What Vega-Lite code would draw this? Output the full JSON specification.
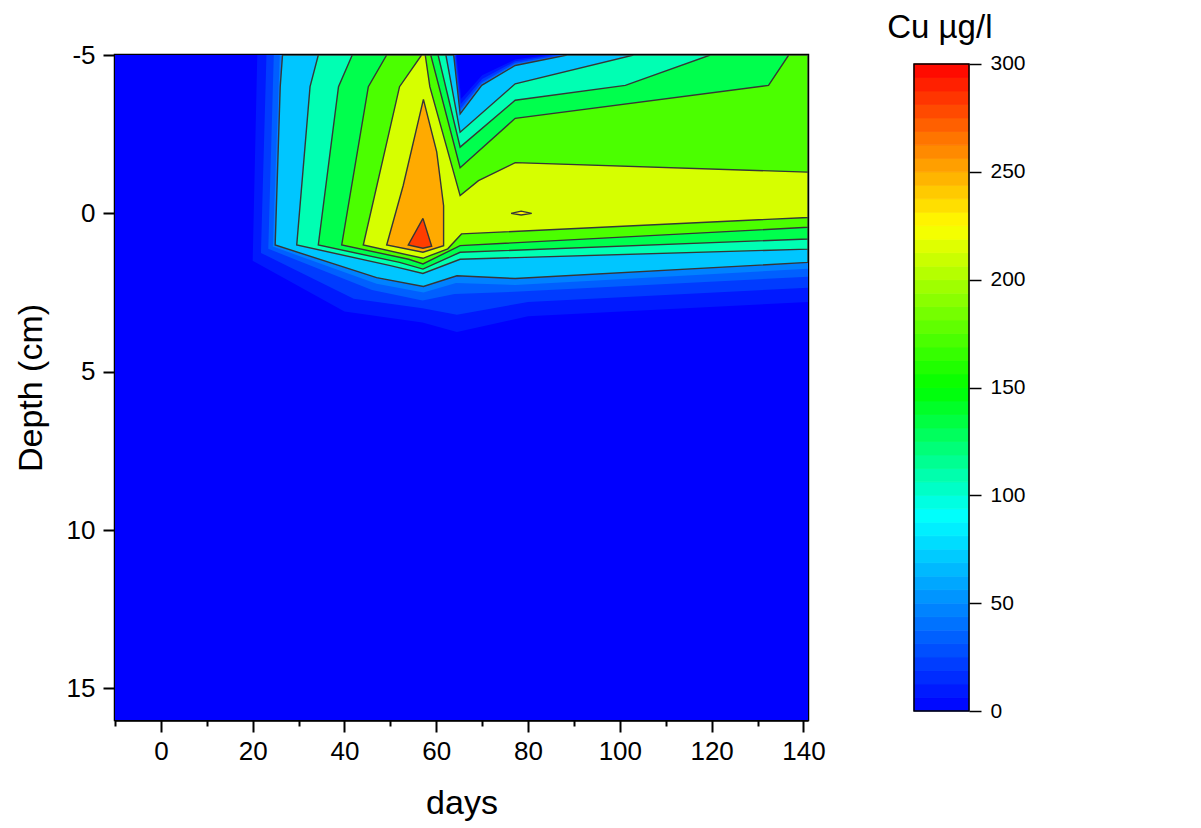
{
  "$schema": "https://vega.github.io/schema/vega-lite/v6.json",
  "background": "white",
  "padding": {"left": 12, "top": 11, "right": 0, "bottom": 0},
  "bounds": "flush",
  "spacing": 106,
  "datasets": {
    "bg": [{"x1": -10, "x2": 141, "y1": -5, "y2": 16, "v": 0}],
    "halo": [
      {"id": "h0", "v": 9, "i": 0, "x": 21.0, "y": -5},
      {"id": "h0", "v": 9, "i": 1, "x": 20.0, "y": 1.5},
      {"id": "h0", "v": 9, "i": 2, "x": 40, "y": 3.1},
      {"id": "h0", "v": 9, "i": 3, "x": 57, "y": 3.45},
      {"id": "h0", "v": 9, "i": 4, "x": 64.5, "y": 3.75},
      {"id": "h0", "v": 9, "i": 5, "x": 80, "y": 3.25},
      {"id": "h0", "v": 9, "i": 6, "x": 141, "y": 2.8},
      {"id": "h0", "v": 9, "i": 7, "x": 141, "y": -5},
      {"id": "h0", "v": 9, "i": 8, "x": 84, "y": -5},
      {"id": "h0", "v": 9, "i": 9, "x": 77.2, "y": -4.86},
      {"id": "h0", "v": 9, "i": 10, "x": 70, "y": -4.36},
      {"id": "h0", "v": 9, "i": 11, "x": 65.45, "y": -3.62},
      {"id": "h0", "v": 9, "i": 12, "x": 64.4, "y": -5},
      {"id": "h0", "v": 9, "i": 13, "x": 21.0, "y": -5},
      {"id": "h1", "v": 21, "i": 0, "x": 23.0, "y": -5},
      {"id": "h1", "v": 21, "i": 1, "x": 21.8, "y": 1.25},
      {"id": "h1", "v": 21, "i": 2, "x": 42, "y": 2.7},
      {"id": "h1", "v": 21, "i": 3, "x": 57, "y": 3.0},
      {"id": "h1", "v": 21, "i": 4, "x": 64.5, "y": 3.2},
      {"id": "h1", "v": 21, "i": 5, "x": 80, "y": 2.8},
      {"id": "h1", "v": 21, "i": 6, "x": 141, "y": 2.35},
      {"id": "h1", "v": 21, "i": 7, "x": 141, "y": -5},
      {"id": "h1", "v": 21, "i": 8, "x": 85.5, "y": -5},
      {"id": "h1", "v": 21, "i": 9, "x": 77.2, "y": -4.8},
      {"id": "h1", "v": 21, "i": 10, "x": 70, "y": -4.24},
      {"id": "h1", "v": 21, "i": 11, "x": 65.35, "y": -3.45},
      {"id": "h1", "v": 21, "i": 12, "x": 64.2, "y": -5},
      {"id": "h1", "v": 21, "i": 13, "x": 23.0, "y": -5},
      {"id": "h2", "v": 34, "i": 0, "x": 24.6, "y": -5},
      {"id": "h2", "v": 34, "i": 1, "x": 23.4, "y": 1.12},
      {"id": "h2", "v": 34, "i": 2, "x": 46, "y": 2.42},
      {"id": "h2", "v": 34, "i": 3, "x": 57, "y": 2.75},
      {"id": "h2", "v": 34, "i": 4, "x": 64, "y": 2.55},
      {"id": "h2", "v": 34, "i": 5, "x": 77, "y": 2.48},
      {"id": "h2", "v": 34, "i": 6, "x": 141, "y": 2.0},
      {"id": "h2", "v": 34, "i": 7, "x": 141, "y": -5},
      {"id": "h2", "v": 34, "i": 8, "x": 87, "y": -5},
      {"id": "h2", "v": 34, "i": 9, "x": 77.2, "y": -4.75},
      {"id": "h2", "v": 34, "i": 10, "x": 69.9, "y": -4.14},
      {"id": "h2", "v": 34, "i": 11, "x": 65.25, "y": -3.3},
      {"id": "h2", "v": 34, "i": 12, "x": 64.0, "y": -5},
      {"id": "h2", "v": 34, "i": 13, "x": 24.6, "y": -5},
      {"id": "h3", "v": 46, "i": 0, "x": 25.9, "y": -5},
      {"id": "h3", "v": 46, "i": 1, "x": 24.4, "y": 1.05},
      {"id": "h3", "v": 46, "i": 2, "x": 47, "y": 2.22},
      {"id": "h3", "v": 46, "i": 3, "x": 57.2, "y": 2.5},
      {"id": "h3", "v": 46, "i": 4, "x": 64.3, "y": 2.2},
      {"id": "h3", "v": 46, "i": 5, "x": 77.2, "y": 2.26},
      {"id": "h3", "v": 46, "i": 6, "x": 141, "y": 1.75},
      {"id": "h3", "v": 46, "i": 7, "x": 141, "y": -5},
      {"id": "h3", "v": 46, "i": 8, "x": 87.8, "y": -5},
      {"id": "h3", "v": 46, "i": 9, "x": 77.2, "y": -4.71},
      {"id": "h3", "v": 46, "i": 10, "x": 69.9, "y": -4.09},
      {"id": "h3", "v": 46, "i": 11, "x": 65.22, "y": -3.22},
      {"id": "h3", "v": 46, "i": 12, "x": 63.9, "y": -5},
      {"id": "h3", "v": 46, "i": 13, "x": 25.9, "y": -5}
    ],
    "cont": [
      {"id": "r1", "v": 70, "i": 0, "x": 26.5, "y": -5},
      {"id": "r1", "v": 70, "i": 1, "x": 26.0, "y": -4},
      {"id": "r1", "v": 70, "i": 2, "x": 24.9, "y": 1},
      {"id": "r1", "v": 70, "i": 3, "x": 47, "y": 2.03},
      {"id": "r1", "v": 70, "i": 4, "x": 57.2, "y": 2.31},
      {"id": "r1", "v": 70, "i": 5, "x": 64.5, "y": 1.97},
      {"id": "r1", "v": 70, "i": 6, "x": 77.2, "y": 2.06},
      {"id": "r1", "v": 70, "i": 7, "x": 141, "y": 1.55},
      {"id": "r1", "v": 70, "i": 8, "x": 141, "y": -5},
      {"id": "r1", "v": 70, "i": 9, "x": 88.5, "y": -5},
      {"id": "r1", "v": 70, "i": 10, "x": 77.2, "y": -4.67},
      {"id": "r1", "v": 70, "i": 11, "x": 69.9, "y": -4.04},
      {"id": "r1", "v": 70, "i": 12, "x": 65.2, "y": -3.14},
      {"id": "r1", "v": 70, "i": 13, "x": 63.8, "y": -5},
      {"id": "r1", "v": 70, "i": 14, "x": 26.5, "y": -5},
      {"id": "r2", "v": 108, "i": 0, "x": 34.3, "y": -5},
      {"id": "r2", "v": 108, "i": 1, "x": 32.5, "y": -4},
      {"id": "r2", "v": 108, "i": 2, "x": 29.6, "y": 1},
      {"id": "r2", "v": 108, "i": 3, "x": 50, "y": 1.65},
      {"id": "r2", "v": 108, "i": 4, "x": 57.1, "y": 1.9},
      {"id": "r2", "v": 108, "i": 5, "x": 65.2, "y": 1.45},
      {"id": "r2", "v": 108, "i": 6, "x": 141, "y": 1.13},
      {"id": "r2", "v": 108, "i": 7, "x": 141, "y": -5},
      {"id": "r2", "v": 108, "i": 8, "x": 103, "y": -5},
      {"id": "r2", "v": 108, "i": 9, "x": 77.2, "y": -4.09},
      {"id": "r2", "v": 108, "i": 10, "x": 65.2, "y": -2.56},
      {"id": "r2", "v": 108, "i": 11, "x": 62.1, "y": -5},
      {"id": "r2", "v": 108, "i": 12, "x": 34.3, "y": -5},
      {"id": "r3", "v": 132, "i": 0, "x": 41.7, "y": -5},
      {"id": "r3", "v": 132, "i": 1, "x": 38.7, "y": -4},
      {"id": "r3", "v": 132, "i": 2, "x": 34.3, "y": 1},
      {"id": "r3", "v": 132, "i": 3, "x": 52, "y": 1.55},
      {"id": "r3", "v": 132, "i": 4, "x": 57.1, "y": 1.76},
      {"id": "r3", "v": 132, "i": 5, "x": 65.2, "y": 1.23},
      {"id": "r3", "v": 132, "i": 6, "x": 141, "y": 0.81},
      {"id": "r3", "v": 132, "i": 7, "x": 141, "y": -5},
      {"id": "r3", "v": 132, "i": 8, "x": 119.7, "y": -5},
      {"id": "r3", "v": 132, "i": 9, "x": 101.2, "y": -4.04},
      {"id": "r3", "v": 132, "i": 10, "x": 77.2, "y": -3.57},
      {"id": "r3", "v": 132, "i": 11, "x": 65.2, "y": -2.09},
      {"id": "r3", "v": 132, "i": 12, "x": 60.4, "y": -5},
      {"id": "r3", "v": 132, "i": 13, "x": 41.7, "y": -5},
      {"id": "r4", "v": 172, "i": 0, "x": 49.2, "y": -5},
      {"id": "r4", "v": 172, "i": 1, "x": 45.2, "y": -4},
      {"id": "r4", "v": 172, "i": 2, "x": 39.4, "y": 1},
      {"id": "r4", "v": 172, "i": 3, "x": 54, "y": 1.45},
      {"id": "r4", "v": 172, "i": 4, "x": 57.1, "y": 1.6},
      {"id": "r4", "v": 172, "i": 5, "x": 65.2, "y": 1.02},
      {"id": "r4", "v": 172, "i": 6, "x": 141, "y": 0.44},
      {"id": "r4", "v": 172, "i": 7, "x": 141, "y": -5},
      {"id": "r4", "v": 172, "i": 8, "x": 136.8, "y": -5},
      {"id": "r4", "v": 172, "i": 9, "x": 132.4, "y": -4.04},
      {"id": "r4", "v": 172, "i": 10, "x": 77.2, "y": -3.0},
      {"id": "r4", "v": 172, "i": 11, "x": 65.2, "y": -1.44},
      {"id": "r4", "v": 172, "i": 12, "x": 58.8, "y": -5},
      {"id": "r4", "v": 172, "i": 13, "x": 49.2, "y": -5},
      {"id": "r5", "v": 213, "i": 0, "x": 56.8, "y": -5},
      {"id": "r5", "v": 213, "i": 1, "x": 52, "y": -4},
      {"id": "r5", "v": 213, "i": 2, "x": 44.1, "y": 1},
      {"id": "r5", "v": 213, "i": 3, "x": 57.1, "y": 1.42},
      {"id": "r5", "v": 213, "i": 4, "x": 62.5, "y": 1.12},
      {"id": "r5", "v": 213, "i": 5, "x": 65.5, "y": 0.65},
      {"id": "r5", "v": 213, "i": 6, "x": 141, "y": 0.13},
      {"id": "r5", "v": 213, "i": 7, "x": 141, "y": -1.3},
      {"id": "r5", "v": 213, "i": 8, "x": 77.2, "y": -1.6},
      {"id": "r5", "v": 213, "i": 9, "x": 69.2, "y": -1.03},
      {"id": "r5", "v": 213, "i": 10, "x": 65.2, "y": -0.56},
      {"id": "r5", "v": 213, "i": 11, "x": 58.6, "y": -4},
      {"id": "r5", "v": 213, "i": 12, "x": 57.6, "y": -5},
      {"id": "r5", "v": 213, "i": 13, "x": 56.8, "y": -5},
      {"id": "r6", "v": 250, "i": 0, "x": 57.2, "y": -3.6},
      {"id": "r6", "v": 250, "i": 1, "x": 60.1, "y": -1.94},
      {"id": "r6", "v": 250, "i": 2, "x": 61.6, "y": -0.24},
      {"id": "r6", "v": 250, "i": 3, "x": 61.6, "y": 1.02},
      {"id": "r6", "v": 250, "i": 4, "x": 57.1, "y": 1.23},
      {"id": "r6", "v": 250, "i": 5, "x": 49.2, "y": 1.0},
      {"id": "r6", "v": 250, "i": 6, "x": 52.8, "y": -0.88},
      {"id": "r6", "v": 250, "i": 7, "x": 57.2, "y": -3.6},
      {"id": "r6b", "v": 228, "i": 0, "x": 76.3, "y": 0.0},
      {"id": "r6b", "v": 228, "i": 1, "x": 78.5, "y": -0.07},
      {"id": "r6b", "v": 228, "i": 2, "x": 80.8, "y": 0.0},
      {"id": "r6b", "v": 228, "i": 3, "x": 78.5, "y": 0.05},
      {"id": "r6b", "v": 228, "i": 4, "x": 76.3, "y": 0.0},
      {"id": "r7", "v": 282, "i": 0, "x": 57.1, "y": 0.16},
      {"id": "r7", "v": 282, "i": 1, "x": 59.0, "y": 1.04},
      {"id": "r7", "v": 282, "i": 2, "x": 57.1, "y": 1.1},
      {"id": "r7", "v": 282, "i": 3, "x": 53.9, "y": 1.0},
      {"id": "r7", "v": 282, "i": 4, "x": 57.1, "y": 0.16}
    ],
    "bar": [
      {"c": "Cu", "lo": 0, "hi": 6.25, "m": 3.125},
      {"c": "Cu", "lo": 6.25, "hi": 12.5, "m": 9.375},
      {"c": "Cu", "lo": 12.5, "hi": 18.75, "m": 15.625},
      {"c": "Cu", "lo": 18.75, "hi": 25, "m": 21.875},
      {"c": "Cu", "lo": 25, "hi": 31.25, "m": 28.125},
      {"c": "Cu", "lo": 31.25, "hi": 37.5, "m": 34.375},
      {"c": "Cu", "lo": 37.5, "hi": 43.75, "m": 40.625},
      {"c": "Cu", "lo": 43.75, "hi": 50, "m": 46.875},
      {"c": "Cu", "lo": 50, "hi": 56.25, "m": 53.125},
      {"c": "Cu", "lo": 56.25, "hi": 62.5, "m": 59.375},
      {"c": "Cu", "lo": 62.5, "hi": 68.75, "m": 65.625},
      {"c": "Cu", "lo": 68.75, "hi": 75, "m": 71.875},
      {"c": "Cu", "lo": 75, "hi": 81.25, "m": 78.125},
      {"c": "Cu", "lo": 81.25, "hi": 87.5, "m": 84.375},
      {"c": "Cu", "lo": 87.5, "hi": 93.75, "m": 90.625},
      {"c": "Cu", "lo": 93.75, "hi": 100, "m": 96.875},
      {"c": "Cu", "lo": 100, "hi": 106.25, "m": 103.125},
      {"c": "Cu", "lo": 106.25, "hi": 112.5, "m": 109.375},
      {"c": "Cu", "lo": 112.5, "hi": 118.75, "m": 115.625},
      {"c": "Cu", "lo": 118.75, "hi": 125, "m": 121.875},
      {"c": "Cu", "lo": 125, "hi": 131.25, "m": 128.125},
      {"c": "Cu", "lo": 131.25, "hi": 137.5, "m": 134.375},
      {"c": "Cu", "lo": 137.5, "hi": 143.75, "m": 140.625},
      {"c": "Cu", "lo": 143.75, "hi": 150, "m": 146.875},
      {"c": "Cu", "lo": 150, "hi": 156.25, "m": 153.125},
      {"c": "Cu", "lo": 156.25, "hi": 162.5, "m": 159.375},
      {"c": "Cu", "lo": 162.5, "hi": 168.75, "m": 165.625},
      {"c": "Cu", "lo": 168.75, "hi": 175, "m": 171.875},
      {"c": "Cu", "lo": 175, "hi": 181.25, "m": 178.125},
      {"c": "Cu", "lo": 181.25, "hi": 187.5, "m": 184.375},
      {"c": "Cu", "lo": 187.5, "hi": 193.75, "m": 190.625},
      {"c": "Cu", "lo": 193.75, "hi": 200, "m": 196.875},
      {"c": "Cu", "lo": 200, "hi": 206.25, "m": 203.125},
      {"c": "Cu", "lo": 206.25, "hi": 212.5, "m": 209.375},
      {"c": "Cu", "lo": 212.5, "hi": 218.75, "m": 215.625},
      {"c": "Cu", "lo": 218.75, "hi": 225, "m": 221.875},
      {"c": "Cu", "lo": 225, "hi": 231.25, "m": 228.125},
      {"c": "Cu", "lo": 231.25, "hi": 237.5, "m": 234.375},
      {"c": "Cu", "lo": 237.5, "hi": 243.75, "m": 240.625},
      {"c": "Cu", "lo": 243.75, "hi": 250, "m": 246.875},
      {"c": "Cu", "lo": 250, "hi": 256.25, "m": 253.125},
      {"c": "Cu", "lo": 256.25, "hi": 262.5, "m": 259.375},
      {"c": "Cu", "lo": 262.5, "hi": 268.75, "m": 265.625},
      {"c": "Cu", "lo": 268.75, "hi": 275, "m": 271.875},
      {"c": "Cu", "lo": 275, "hi": 281.25, "m": 278.125},
      {"c": "Cu", "lo": 281.25, "hi": 287.5, "m": 284.375},
      {"c": "Cu", "lo": 287.5, "hi": 293.75, "m": 290.625},
      {"c": "Cu", "lo": 293.75, "hi": 300, "m": 296.875}
    ],
    "barframe": [{"c": "Cu", "lo": 0, "hi": 300}]
  },
  "hconcat": [
    {
      "width": 693,
      "height": 665,
      "layer": [
        {
          "data": {"name": "bg"},
          "mark": {"type": "rect"},
          "encoding": {
            "x": {"field": "x1", "type": "quantitative", "title": "days",
              "scale": {"domain": [-10, 141], "nice": false, "zero": false},
              "axis": {
                "values": [-10, 0, 10, 20, 30, 40, 50, 60, 70, 80, 90, 100, 110, 120, 130, 140],
                "labelExpr": "datum.value % 20 === 0 ? datum.label : ''",
                "tickSize": {"condition": {"test": "datum.value % 20 === 0", "value": 12}, "value": 6},
                "labelPadding": 6, "titlePadding": 22, "grid": false, "labelOverlap": false, "labelFlush": false
              }
            },
            "x2": {"field": "x2"},
            "y": {"field": "y1", "type": "quantitative", "title": "Depth (cm)",
              "scale": {"domain": [-5, 16], "reverse": true, "nice": false, "zero": false},
              "axis": {"values": [-5, 0, 5, 10, 15], "labelExpr": "datum.value < 0 ? '-' + (-datum.value) : datum.label", "tickSize": 12, "labelPadding": 8, "titlePadding": 18, "grid": false, "labelFlush": false}
            },
            "y2": {"field": "y2"},
            "fill": {"field": "v", "type": "quantitative", "legend": null,
              "scale": {"domain": [0, 50, 90, 150, 225, 300], "range": ["#0000ff", "#008cff", "#00ffff", "#00ff00", "#ffff00", "#ff0000"], "interpolate": "rgb"}
            }
          }
        },
        {
          "data": {"name": "halo"},
          "mark": {"type": "line", "strokeOpacity": 0, "strokeWidth": 0, "clip": true},
          "encoding": {
            "x": {"field": "x", "type": "quantitative", "title": "days"},
            "y": {"field": "y", "type": "quantitative", "title": "Depth (cm)"},
            "fill": {"field": "v", "type": "quantitative", "legend": null},
            "detail": {"field": "id"},
            "order": {"field": "i", "type": "quantitative"}
          }
        },
        {
          "data": {"name": "cont"},
          "mark": {"type": "line", "stroke": "#363636", "strokeWidth": 1.4, "clip": true},
          "encoding": {
            "x": {"field": "x", "type": "quantitative", "title": "days"},
            "y": {"field": "y", "type": "quantitative", "title": "Depth (cm)"},
            "fill": {"field": "v", "type": "quantitative", "legend": null},
            "detail": {"field": "id"},
            "order": {"field": "i", "type": "quantitative"}
          }
        }
      ]
    },
    {
      "width": 55,
      "height": 665,
      "view": {"stroke": null},
      "title": {"text": "Cu µg/l", "anchor": "start", "dx": -26, "offset": 8, "fontSize": 33},
      "layer": [
        {
          "data": {"name": "bar"},
          "mark": {"type": "rect", "strokeWidth": 0.8},
          "encoding": {
            "x": {"field": "c", "type": "nominal", "axis": null, "scale": {"paddingInner": 0, "paddingOuter": 0}},
            "y": {"field": "lo", "type": "quantitative", "title": null,
              "scale": {"domain": [-4.17, 304.17], "nice": false, "zero": false},
              "axis": {"orient": "right", "values": [0, 50, 100, 150, 200, 250, 300], "domain": false, "tickSize": 12, "tickWidth": 1.5, "labelFontSize": 21, "labelPadding": 9, "grid": false, "labelFlush": false}
            },
            "y2": {"field": "hi"},
            "fill": {"field": "m", "type": "quantitative", "legend": null,
              "scale": {"domain": [0, 50, 90, 150, 225, 300], "range": ["#0000ff", "#008cff", "#00ffff", "#00ff00", "#ffff00", "#ff0000"], "interpolate": "rgb"}
            },
            "stroke": {"field": "m", "type": "quantitative", "legend": null,
              "scale": {"domain": [0, 50, 90, 150, 225, 300], "range": ["#0000ff", "#008cff", "#00ffff", "#00ff00", "#ffff00", "#ff0000"], "interpolate": "rgb"}
            }
          }
        },
        {
          "data": {"name": "barframe"},
          "mark": {"type": "rect", "fillOpacity": 0, "stroke": "black", "strokeWidth": 1.5},
          "encoding": {
            "x": {"field": "c", "type": "nominal"},
            "y": {"field": "lo", "type": "quantitative"},
            "y2": {"field": "hi"}
          }
        }
      ]
    }
  ],
  "config": {
    "font": "Liberation Sans",
    "view": {"stroke": "black", "strokeWidth": 2.5},
    "axis": {
      "labelFont": "Liberation Sans", "titleFont": "Liberation Sans",
      "labelFontSize": 26, "titleFontSize": 34, "titleFontWeight": "normal",
      "labelColor": "black", "titleColor": "black",
      "domainColor": "black", "domainWidth": 2.5, "tickColor": "black", "tickWidth": 2
    },
    "title": {"font": "Liberation Sans", "fontWeight": "normal", "color": "black"}
  }
}
